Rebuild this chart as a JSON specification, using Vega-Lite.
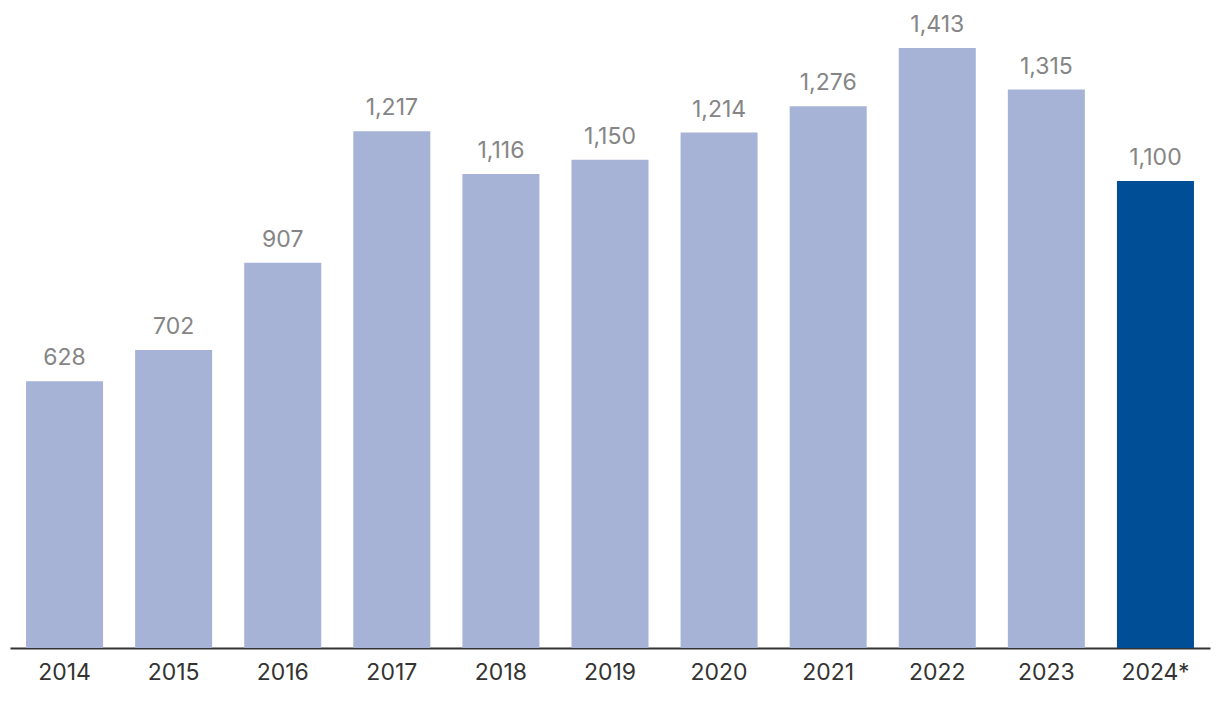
{
  "$schema": "https://vega.github.io/schema/vega-lite/v6.json",
  "width": 1200,
  "height": 600,
  "autosize": {"type": "none"},
  "padding": {"left": 10, "top": 48, "right": 10, "bottom": 54},
  "background": "white",
  "config": {"view": {"stroke": null}, "font": "Inter"},
  "data": {"values": [
    {"year": "2014", "value": 628, "type": "actual"},
    {"year": "2015", "value": 702, "type": "actual"},
    {"year": "2016", "value": 907, "type": "actual"},
    {"year": "2017", "value": 1217, "type": "actual"},
    {"year": "2018", "value": 1116, "type": "actual"},
    {"year": "2019", "value": 1150, "type": "actual"},
    {"year": "2020", "value": 1214, "type": "actual"},
    {"year": "2021", "value": 1276, "type": "actual"},
    {"year": "2022", "value": 1413, "type": "actual"},
    {"year": "2023", "value": 1315, "type": "actual"},
    {"year": "2024*", "value": 1100, "type": "forecast"}
  ]},
  "encoding": {
    "x": {"field": "year", "type": "nominal", "sort": null,
      "scale": {"paddingInner": 0.294},
      "axis": {"title": null, "labelAngle": 0, "labelFontSize": 23, "labelColor": "#333333",
        "labelPadding": 13, "ticks": false, "domainColor": "#333333", "domainWidth": 2, "grid": false}},
    "y": {"field": "value", "type": "quantitative",
      "scale": {"domain": [0, 1413], "nice": false}, "axis": null}
  },
  "layer": [
    {"mark": {"type": "bar"},
     "encoding": {"color": {"field": "type", "type": "nominal",
       "scale": {"domain": ["actual", "forecast"], "range": ["#A7B3D6", "#004F96"]}, "legend": null}}},
    {"mark": {"type": "text", "baseline": "alphabetic", "dy": -16, "fontSize": 23, "color": "#858585", "clip": false},
     "encoding": {"text": {"field": "value", "type": "quantitative", "format": ","}}}
  ]
}
